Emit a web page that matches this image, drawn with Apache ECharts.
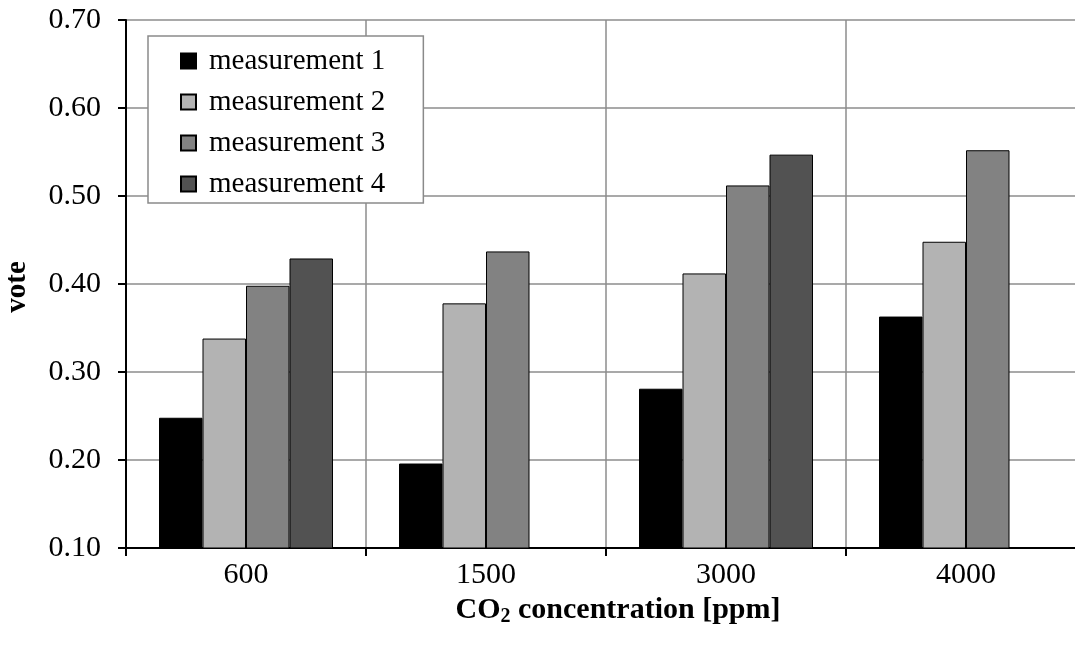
<!DOCTYPE html>
<html>
<head>
<meta charset="utf-8">
<script src="https://cdn.jsdelivr.net/npm/echarts@6/dist/echarts.min.js"></script>
<style>html,body{margin:0;padding:0;background:#fff;}#c{width:1075px;height:646px;}</style>
</head>
<body>
<div id="c"></div>
<script>
const categories = ['600', '1500', '3000', '4000'];
const seriesNames = ['measurement 1', 'measurement 2', 'measurement 3', 'measurement 4'];
const m1 = [0.248, 0.196, 0.281, 0.363];
const m2 = [0.338, 0.378, 0.412, 0.448];
const m3 = [0.398, 0.437, 0.512, 0.552];
const m4 = [0.429, null, 0.547, null];
const colors = ['#000000', '#b3b3b3', '#828282', '#525252'];

const FONT = 'Liberation Serif';
const chart = echarts.init(document.getElementById('c'), null, {renderer: 'canvas'});
const allData = [m1, m2, m3, m4];
chart.setOption({
  animation: false,
  backgroundColor: '#fff',
  textStyle: {fontFamily: FONT, color: '#000'},
  grid: {left: 126, width: 960, top: 20, bottom: 98, containLabel: false, outerBoundsMode: 'none'},
  legend: {
    orient: 'vertical',
    left: 148, top: 36,
    padding: [10, 38, 4, 32],
    itemWidth: 15, itemHeight: 15,
    itemGap: 11,
    backgroundColor: '#fff',
    borderColor: '#8a8a8a', borderWidth: 1.5, borderRadius: 0,
    textStyle: {fontFamily: FONT, fontSize: 29, color: '#000', lineHeight: 30, padding: [0, 0, 0, 8]},
    icon: 'rect',
    data: seriesNames
  },
  xAxis: {
    type: 'category',
    data: categories,
    boundaryGap: true,
    axisLine: {lineStyle: {color: '#000', width: 2}},
    axisTick: {show: true, length: 8, lineStyle: {color: '#000', width: 2}},
    axisLabel: {fontFamily: FONT, fontSize: 30, color: '#000', margin: 12},
    splitLine: {show: true, lineStyle: {color: '#8c8c8c', width: 1.5}},
    name: '{a|CO}{s|2}{a| concentration [ppm]}',
    nameLocation: 'middle',
    nameGap: 36,
    nameTextStyle: {
      padding: [0, 0, 0, 24],
      rich: {
        a: {fontFamily: FONT, fontSize: 30, fontWeight: 'bold', color: '#000'},
        s: {fontFamily: FONT, fontSize: 20, fontWeight: 'bold', color: '#000', padding: [14, 0, 0, 0]}
      }
    }
  },
  yAxis: {
    type: 'value',
    min: 0.1, max: 0.7, interval: 0.1,
    axisLine: {show: true, lineStyle: {color: '#000', width: 2}},
    axisTick: {show: true, length: 8, lineStyle: {color: '#000', width: 2}},
    axisLabel: {fontFamily: FONT, fontSize: 30, color: '#000', margin: 25,
      formatter: v => v.toFixed(2)},
    splitLine: {show: true, lineStyle: {color: '#8c8c8c', width: 1.5}},
    name: 'vote',
    nameLocation: 'middle',
    nameRotate: 90,
    nameGap: 94,
    nameTextStyle: {fontFamily: FONT, fontSize: 29, fontWeight: 'bold', color: '#000', padding: [0, 6, 0, 0]}
  },
  series: seriesNames.map((n, i) => ({
    name: n,
    type: 'bar',
    data: allData[i],
    barGap: '0%',
    barCategoryGap: '27.5%',
    itemStyle: {color: colors[i], borderColor: '#000', borderWidth: 1}
  }))
});
</script>
</body>
</html>
